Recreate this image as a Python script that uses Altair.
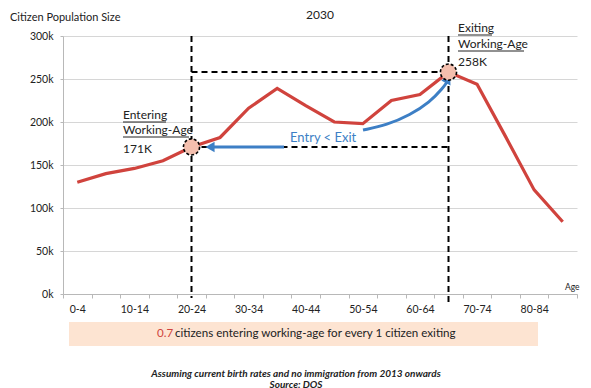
import altair as alt
import pandas as pd

ages = ["0-4", "5-9", "10-14", "15-19", "20-24", "25-29", "30-34", "35-39", "40-44",
        "45-49", "50-54", "55-59", "60-64", "65-69", "70-74", "75-79", "80-84", "85-89"]
population = [130000, 140000, 146000, 155000, 171000, 182000, 216000, 239000, 219000,
              200000, 198000, 225000, 232000, 258000, 244000, 183000, 121000, 84000]
shown_labels = ["0-4", "10-14", "20-24", "30-34", "40-44", "50-54", "60-64", "70-74", "80-84"]
y_ticks = [0, 50000, 100000, 150000, 200000, 250000, 300000]

entry_age, exit_age = "20-24", "65-69"
entry_pop, exit_pop = 171000, 258000

# curved "Entry < Exit" arrow path (annotation, pixel coords in plot area)
arrow_px = [300, 324, 347, 367, 380, 384]
arrow_py = [94, 89, 79, 66, 52, 46]

W, H = 514, 258
FONT = "Lato"
DARK = "#222222"
RED = "#d0433d"
BLUE = "#3d7fc5"

df = pd.DataFrame({"age": ages, "pop": population})

x_enc = alt.X("age:O", sort=ages,
              scale=alt.Scale(type="band", paddingInner=0, paddingOuter=0, domain=ages),
              axis=alt.Axis(title=None, labelAngle=0, tickBand="extent", grid=False,
                            labelExpr="indexof(" + str(shown_labels) + ", datum.value) >= 0 ? datum.label : ''",
                            domainColor="#b8b8b8", tickColor="#b8b8b8", tickSize=4,
                            labelPadding=6, labelFont=FONT, labelFontSize=10.5, labelColor=DARK))
y_enc = alt.Y("pop:Q", scale=alt.Scale(domain=[0, 300000]),
              axis=alt.Axis(title=None, values=y_ticks, labelExpr="(datum.value/1000) + 'k'",
                            gridColor="#d6d6d6", domainColor="#b8b8b8", tickColor="#b8b8b8",
                            tickSize=3, labelPadding=7, labelFont=FONT, labelFontSize=10.5,
                            labelColor=DARK))

base = alt.Chart(df)

line = base.mark_line(color=RED, strokeWidth=3.2).encode(x=x_enc, y=y_enc)


def vline(age, bottom):
    return alt.Chart(pd.DataFrame({"age": [age]})).mark_rule(
        color="black", strokeWidth=2, strokeDash=[6, 4]).encode(
        x=alt.X("age:O", sort=ages), y=alt.value(0), y2=alt.value(bottom))


hlines = alt.Chart(pd.DataFrame({"a": [entry_age, entry_age], "b": [exit_age, exit_age],
                                 "v": [exit_pop, entry_pop]})).mark_rule(
    color="black", strokeWidth=2, strokeDash=[6, 4]).encode(
    x=alt.X("a:O", sort=ages, bandPosition=0.5), x2=alt.X2("b:O", bandPosition=0.6), y="v:Q")

circles = alt.Chart(pd.DataFrame({"age": [entry_age, exit_age], "pop": [entry_pop, exit_pop]})).mark_point(
    shape="circle", size=260, filled=True, fill="#f4bfae", stroke="black",
    strokeWidth=1.6, strokeDash=[3, 2], opacity=1).encode(x=alt.X("age:O", sort=ages), y="pop:Q")

# straight blue arrow
one = pd.DataFrame({"d": [0]})
blue_rule = alt.Chart(one).mark_rule(color=BLUE, strokeWidth=3).encode(
    x=alt.value(221), x2=alt.value(146), y=alt.value(111))
blue_head1 = alt.Chart(one).mark_point(shape="triangle-left", size=110, filled=True,
                                       color=BLUE, opacity=1).encode(x=alt.value(147), y=alt.value(111))

curve = alt.Chart(pd.DataFrame({"px": arrow_px, "py": arrow_py, "o": list(range(len(arrow_px)))})).mark_line(
    color=BLUE, strokeWidth=3, interpolate="basis").encode(
    x=alt.X("px:Q", scale=None, axis=None), y=alt.Y("py:Q", scale=None, axis=None), order="o:Q")
blue_head2 = alt.Chart(one).mark_point(shape="triangle-up", size=110, filled=True, angle=28,
                                       color=BLUE, opacity=1).encode(x=alt.value(385), y=alt.value(43))


def txt(text, x, y, size=12, color=DARK, align="left", weight="normal", style="normal"):
    return alt.Chart(pd.DataFrame({"t": [text]})).mark_text(
        align=align, baseline="middle", font=FONT, fontSize=size, color=color,
        fontWeight=weight, fontStyle=style).encode(text="t:N", x=alt.value(x), y=alt.value(y))


def uline(x1, x2, y):
    return alt.Chart(one).mark_rule(color=DARK, strokeWidth=1).encode(
        x=alt.value(x1), x2=alt.value(x2), y=alt.value(y))


box = alt.Chart(one).mark_rect(color="#fde4d2").encode(
    x=alt.value(6), x2=alt.value(475), y=alt.value(286), y2=alt.value(310))

layers = [
    line, vline(entry_age, 262), vline(exit_age, 266), hlines,
    blue_rule, blue_head1, curve, blue_head2, circles,
    txt("Citizen Population Size", -53, -18, 11),
    txt("2030", W / 2, -21, 12, align="center"),
    txt("Entering", 60, 79, 12), uline(60, 103, 86),
    txt("Working-Age", 60, 94, 12), uline(60, 126, 101),
    txt("171K", 60, 113, 12),
    txt("Exiting", 395, -8, 12), uline(395, 429, -1),
    txt("Working-Age", 395, 8, 12), uline(395, 461, 15),
    txt("258K", 395, 26, 12),
    txt("Entry < Exit", 227, 102, 13, color=BLUE),
    txt("Age", 502, 251, 8.5),
    box,
    txt("0.7", 94, 298, 11.6, color=RED),
    txt("citizens entering working-age for every 1 citizen exiting", 112, 298, 11.6),
    txt("Assuming current birth rates and no immigration from 2013 onwards", 233, 338, 10,
        align="center", weight="bold", style="italic"),
    txt("Source: DOS", 233, 348.5, 10, align="center", weight="bold", style="italic"),
]

chart = alt.layer(*layers).properties(
    width=W, height=H,
    autosize=alt.AutoSizeParams(type="none"),
    padding={"left": 55, "top": 28, "right": 6, "bottom": 94},
).configure_view(stroke=None)

chart.save("out.html", embed_options={"renderer": "svg", "actions": False})
